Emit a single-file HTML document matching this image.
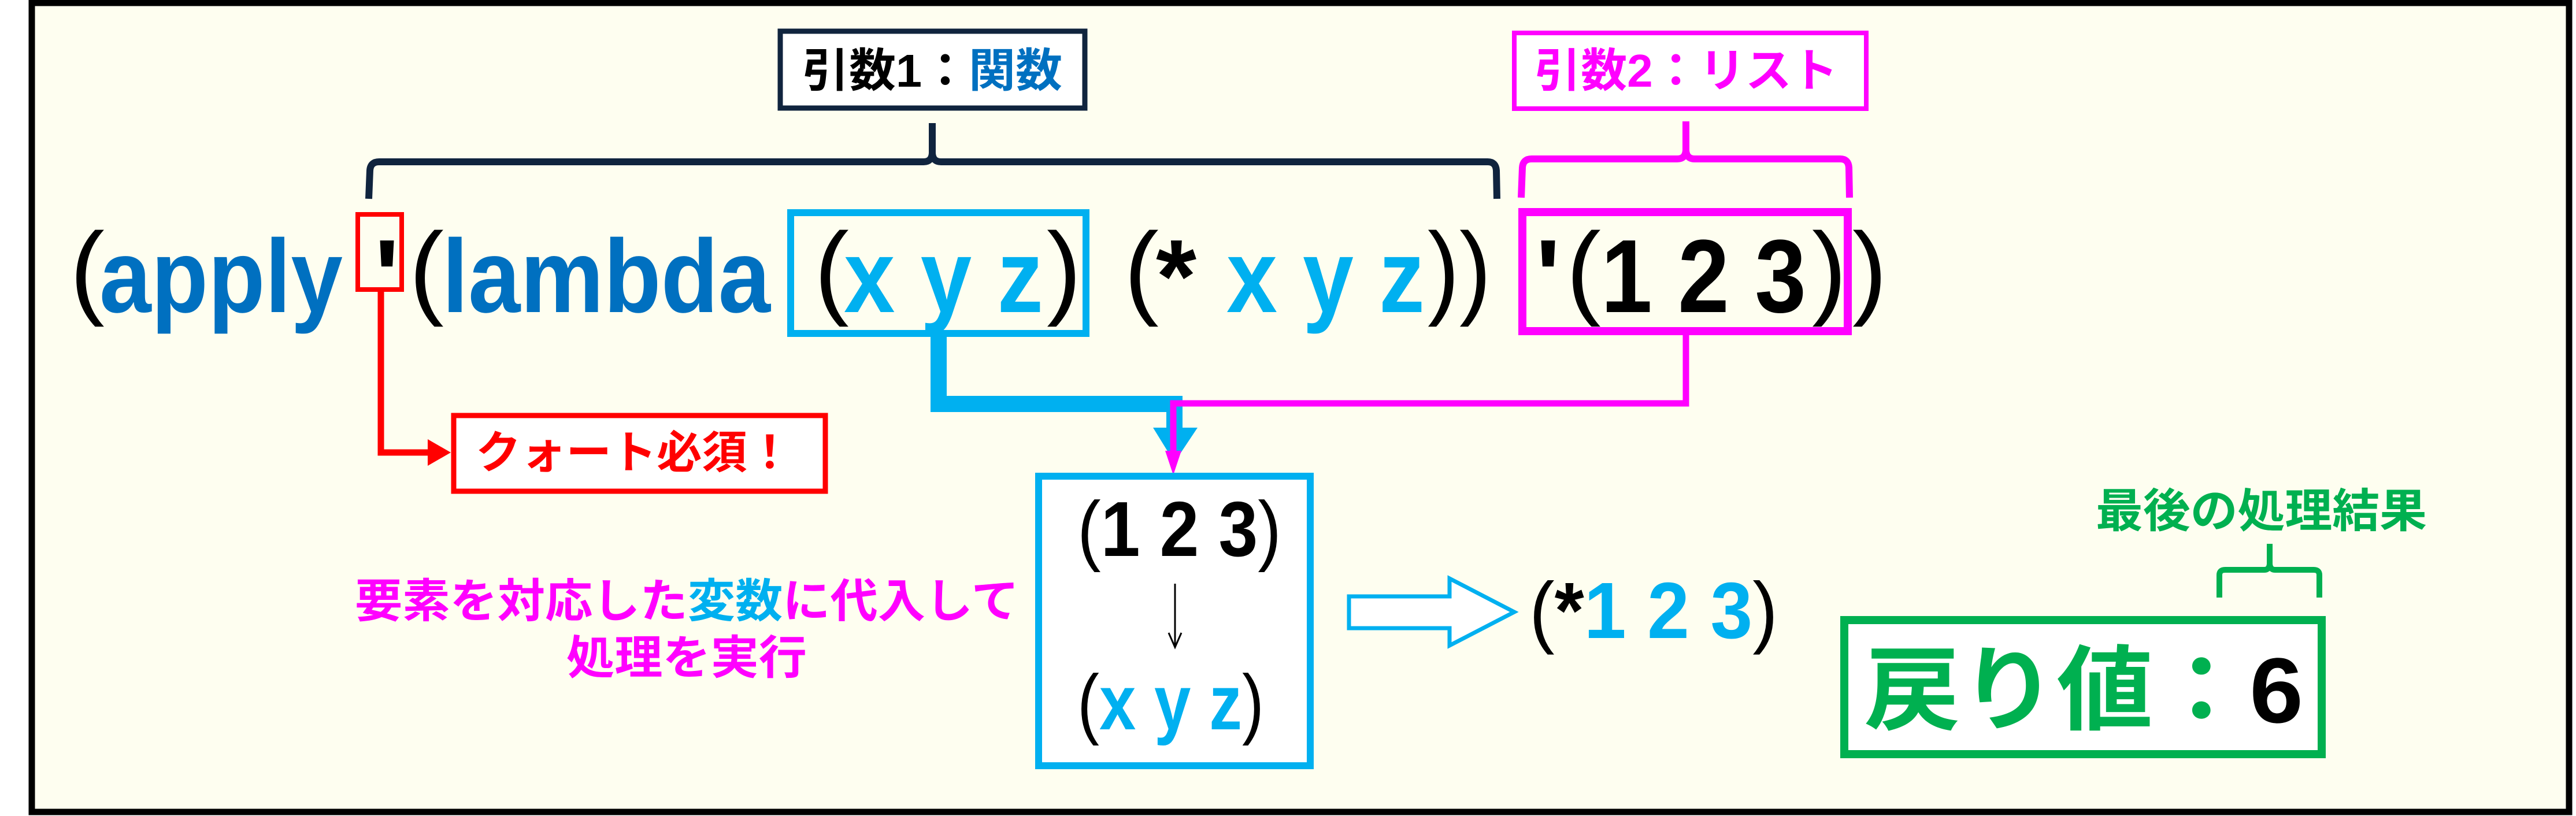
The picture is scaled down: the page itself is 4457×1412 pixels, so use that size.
<!DOCTYPE html>
<html><head><meta charset="utf-8"><style>
html,body{margin:0;padding:0;background:#fff;}
svg{display:block;}
.m{font-family:"Liberation Sans",sans-serif;font-size:180px;}
.b{font-weight:bold;}
.j{font-family:"Liberation Sans","Noto Sans CJK JP",sans-serif;font-weight:bold;}
</style></head><body>
<svg width="4457" height="1412" viewBox="0 0 4457 1412" xmlns="http://www.w3.org/2000/svg">
<rect x="55" y="5" width="4390" height="1400" fill="#fefef0" stroke="#000" stroke-width="11"/>

<rect x="1350" y="54" width="527" height="133" fill="#fff" stroke="#10243e" stroke-width="9"/>
<text class="j" x="1388" y="150" font-size="80" textLength="450" lengthAdjust="spacingAndGlyphs"><tspan fill="#000">引数1：</tspan><tspan fill="#0070c0">関数</tspan></text>
<rect x="2620" y="57" width="609" height="131" fill="#fff" stroke="#ff00ff" stroke-width="8"/>
<text class="j" x="2655" y="150" font-size="80" fill="#ff00ff" textLength="525" lengthAdjust="spacingAndGlyphs">引数2：リスト</text>

<path d="M638,344 L640,295 Q641,280 656,280 L1598,280 Q1612,280 1613,265 L1613,213 M1613,265 Q1614,280 1628,280 L2574,280 Q2588,280 2589,295 L2590,344" fill="none" stroke="#10243e" stroke-width="12"/>
<path d="M2632,342 L2634,290 Q2635,275 2650,275 L2902,275 Q2916,275 2917,260 L2917,210 M2917,260 Q2918,275 2932,275 L3184,275 Q3198,275 3199,290 L3200,342" fill="none" stroke="#ff00ff" stroke-width="12"/>

<rect x="619" y="371" width="76" height="130" fill="none" stroke="#ff0000" stroke-width="8"/>
<rect x="1368" y="368" width="511" height="209" fill="none" stroke="#00b0f0" stroke-width="12"/>
<rect x="2634" y="367" width="563" height="206" fill="none" stroke="#ff00ff" stroke-width="14"/>

<g class="m">
<text x="121" y="528" fill="#000">(</text>
<text class="b" x="172" y="540" fill="#0070c0" textLength="421" lengthAdjust="spacingAndGlyphs">apply</text>
<text x="648" y="540" fill="#000" font-weight="bold">'</text>
<text x="708" y="528" fill="#000">(</text>
<text class="b" x="765" y="540" fill="#0070c0" textLength="568" lengthAdjust="spacingAndGlyphs">lambda</text>
<text x="1409" y="528" fill="#000">(</text>
<text class="b" x="1460" y="540" fill="#00b0f0" textLength="345" lengthAdjust="spacingAndGlyphs">x y z</text>
<text x="1811" y="528" fill="#000">)</text>
<text x="1945" y="528" fill="#000">(</text>
<text class="b" x="2000" y="540" fill="#000">*</text>
<text class="b" x="2122" y="540" fill="#00b0f0" textLength="343" lengthAdjust="spacingAndGlyphs">x y z</text>
<text x="2470" y="528" fill="#000" textLength="110" lengthAdjust="spacingAndGlyphs">))</text>
<text class="b" x="2657" y="540" fill="#000">'</text>
<text x="2710" y="528" fill="#000">(</text>
<text class="b" x="2770" y="540" fill="#000" textLength="355" lengthAdjust="spacingAndGlyphs">1 2 3</text>
<text x="3135" y="528" fill="#000">)</text>
<text x="3205" y="528" fill="#000">)</text>
</g>

<path d="M659,505 L659,783 L745,783" fill="none" stroke="#ff0000" stroke-width="11"/>
<polygon points="740,760 780,783 740,806" fill="#ff0000"/>
<rect x="785" y="719" width="643" height="131" fill="#fff" stroke="#ff0000" stroke-width="9"/>
<text class="j" x="823" y="810" font-size="78" fill="#ff0000" textLength="548" lengthAdjust="spacingAndGlyphs">クォート必須！</text>

<path d="M1624,583 L1624,699 L2032,699 L2032,745" fill="none" stroke="#00b0f0" stroke-width="28"/>
<polygon points="1995,740 2072,740 2032,800" fill="#00b0f0"/>
<path d="M2917,580 L2917,698 L2030,698 L2030,790" fill="none" stroke="#ff00ff" stroke-width="11"/>
<polygon points="2016,780 2044,780 2030,822" fill="#ff00ff"/>

<rect x="1797" y="824" width="470" height="501" fill="#fff" stroke="#00b0f0" stroke-width="12"/>
<g font-family="Liberation Sans,sans-serif" font-size="135">
<text x="1864" y="962" fill="#000" textLength="353" lengthAdjust="spacingAndGlyphs"><tspan>(</tspan><tspan font-weight="bold">1 2 3</tspan><tspan>)</tspan></text>
<text x="1864" y="1262" textLength="323" lengthAdjust="spacingAndGlyphs"><tspan fill="#000">(</tspan><tspan fill="#00b0f0" font-weight="bold">x y z</tspan><tspan fill="#000">)</tspan></text>
</g>
<line x1="2033" y1="1010" x2="2033" y2="1118" stroke="#000" stroke-width="3"/>
<path d="M2022,1095 L2033,1120 L2044,1095" fill="none" stroke="#000" stroke-width="3"/>

<text class="j" x="614" y="1068" font-size="80" textLength="1149" lengthAdjust="spacingAndGlyphs"><tspan fill="#ff00ff">要素を対応した</tspan><tspan fill="#00b0f0">変数</tspan><tspan fill="#ff00ff">に代入して</tspan></text>
<text class="j" x="980" y="1166" font-size="80" fill="#ff00ff" textLength="416" lengthAdjust="spacingAndGlyphs">処理を実行</text>

<polygon points="2334,1032 2508,1032 2508,1001 2620,1059 2508,1117 2508,1087 2334,1087" fill="#fff" stroke="#00b0f0" stroke-width="7"/>
<text x="2646" y="1104" font-family="Liberation Sans,sans-serif" font-size="138" textLength="430" lengthAdjust="spacingAndGlyphs"><tspan fill="#000">(</tspan><tspan fill="#000" font-weight="bold">*</tspan><tspan fill="#00b0f0" font-weight="bold">1 2 3</tspan><tspan fill="#000">)</tspan></text>

<text class="j" x="3626" y="912" font-size="80" fill="#00b050" textLength="573" lengthAdjust="spacingAndGlyphs">最後の処理結果</text>
<path d="M3840,1034 L3840,995 Q3840,986 3850,986 L3918,986 Q3926,986 3927,976 L3927,941 M3927,976 Q3928,986 3936,986 L4003,986 Q4013,986 4013,995 L4013,1034" fill="none" stroke="#00b050" stroke-width="10"/>
<rect x="3191" y="1073" width="826" height="232" fill="#fff" stroke="#00b050" stroke-width="14"/>
<text class="j" x="3225" y="1250" font-size="160" textLength="760" lengthAdjust="spacingAndGlyphs"><tspan fill="#00b050">戻り値：</tspan><tspan fill="#000">6</tspan></text>
</svg>
</body></html>
